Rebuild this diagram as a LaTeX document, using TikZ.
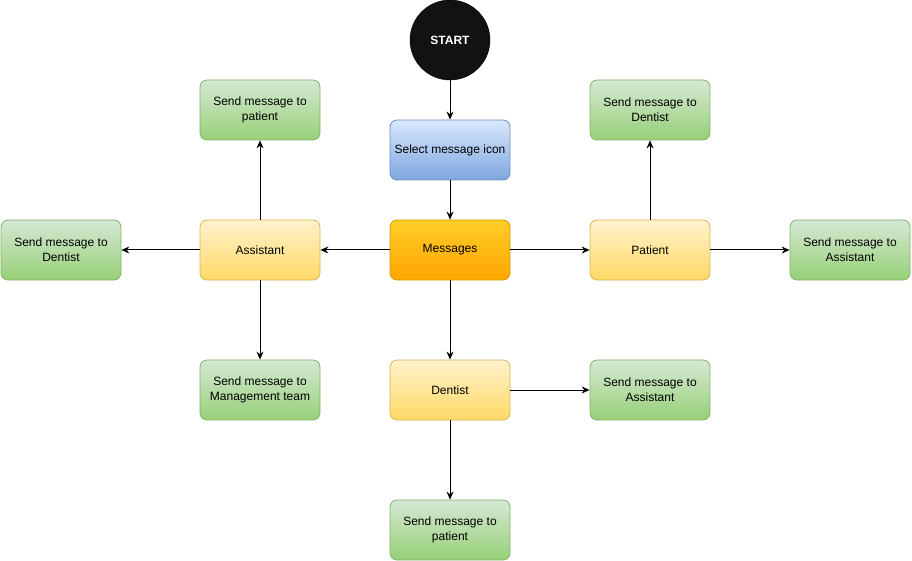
\documentclass[tikz,border=0pt]{standalone}
\usepackage{fontspec}
\setmainfont{Liberation Sans}
\usetikzlibrary{arrows.meta}
\definecolor{greenfill}{HTML}{D5E8D4}
\definecolor{greenbot}{HTML}{97D077}
\definecolor{greenline}{HTML}{82B366}
\definecolor{yellowfill}{HTML}{FFF2CC}
\definecolor{yellowbot}{HTML}{FFD966}
\definecolor{yellowline}{HTML}{D6B656}
\definecolor{bluefill}{HTML}{DAE8FC}
\definecolor{bluebot}{HTML}{7EA6E0}
\definecolor{blueline}{HTML}{6C8EBF}
\definecolor{orangefill}{HTML}{FFCD28}
\definecolor{orangebot}{HTML}{FFA500}
\definecolor{orangeline}{HTML}{D79B00}
\begin{document}
\begin{tikzpicture}[x=1pt, y=-1pt]
    \tikzstyle{line} = [-{Stealth[length=8pt,width=7pt]}, line width=1pt]
    \tikzstyle{rec} = [rectangle, rounded corners=7pt, line width=0.8pt,
        align=center, minimum width=120pt, minimum height=60pt,
        font=\fontsize{12}{15}\selectfont, inner sep=0pt]
    \tikzstyle{send} = [rec, draw=greenline, top color=greenfill,
        bottom color=greenbot]
    \tikzstyle{role} = [rec, draw=yellowline, top color=yellowfill,
        bottom color=yellowbot]

    \useasboundingbox (0,0) rectangle (912,561);

    \node(start) [circle, fill=black!93, draw=black, minimum size=80pt,
        text=white, font=\bfseries\fontsize{12}{15}\selectfont]
        at (450,40) {START};
    \node(select) [rec, draw=blueline, top color=bluefill,
        bottom color=bluebot] at (450,150) {Select message icon};
    \node(messages) [rec, draw=orangeline, top color=orangefill,
        bottom color=orangebot] at (450,250) {Messages};

    \node(assistant) [role] at (260,250) {Assistant};
    \node(patient) [role] at (650,250) {Patient};
    \node(dentist) [role] at (450,390) {Dentist};

    \node(asspatient) [send] at (260,110) {Send message to\\ patient};
    \node(assdentist) [send] at (61,250) {Send message to\\ Dentist};
    \node(assmgmt) [send] at (260,390) {Send message to\\ Management team};
    \node(patdentist) [send] at (650,110) {Send message to\\ Dentist};
    \node(patassistant) [send] at (850,250) {Send message to\\ Assistant};
    \node(dentassistant) [send] at (650,390) {Send message to\\ Assistant};
    \node(dentpatient) [send] at (450,530) {Send message to\\ patient};

    \draw[line] (start) -- (select);
    \draw[line] (select) -- (messages);
    \draw[line] (messages) -- (assistant);
    \draw[line] (messages) -- (patient);
    \draw[line] (messages) -- (dentist);
    \draw[line] (assistant) -- (asspatient);
    \draw[line] (assistant) -- (assdentist);
    \draw[line] (assistant) -- (assmgmt);
    \draw[line] (patient) -- (patdentist);
    \draw[line] (patient) -- (patassistant);
    \draw[line] (dentist) -- (dentassistant);
    \draw[line] (dentist) -- (dentpatient);
\end{tikzpicture}
\end{document}
